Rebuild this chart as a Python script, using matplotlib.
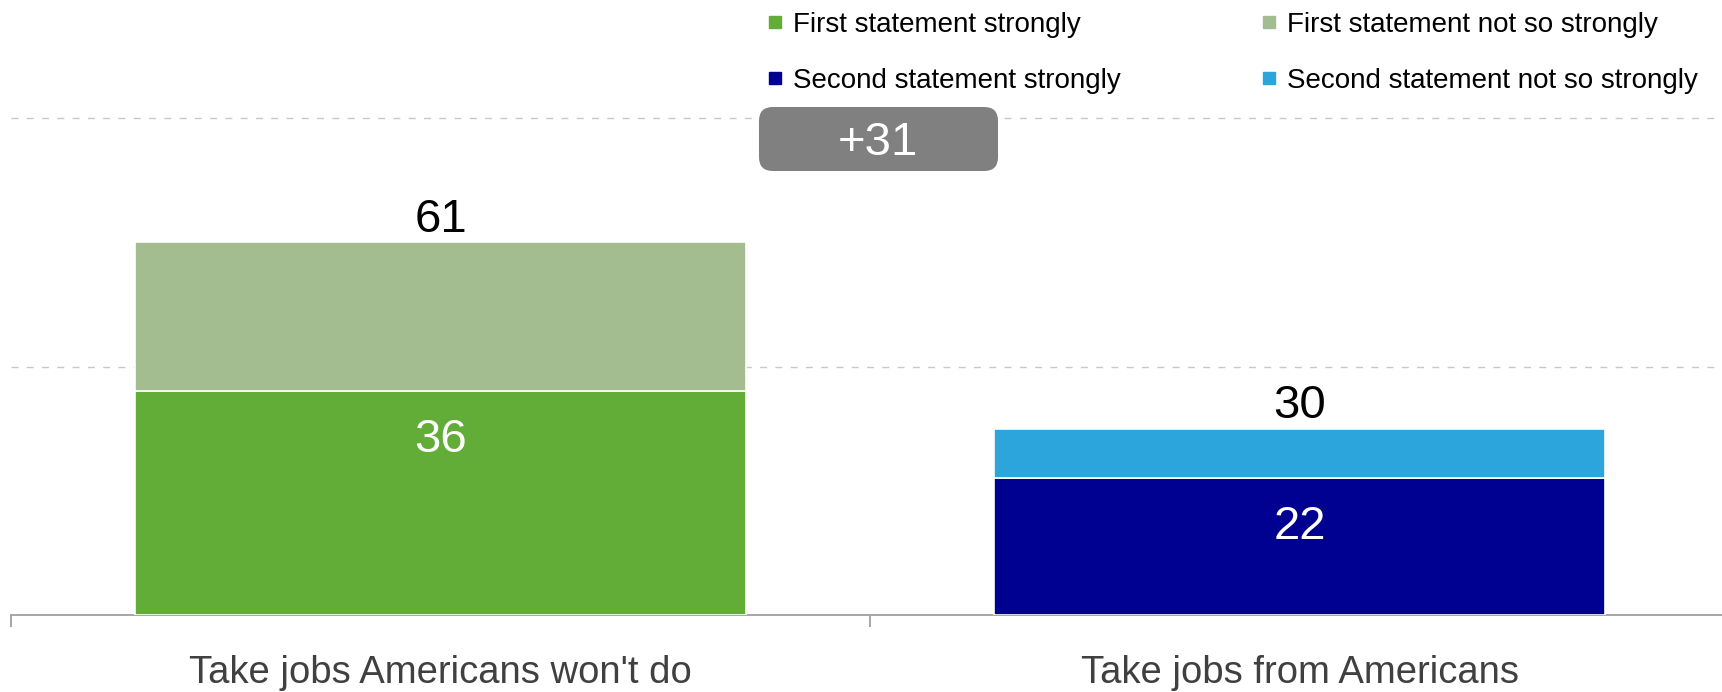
import matplotlib.pyplot as plt
from matplotlib.patches import FancyBboxPatch
from matplotlib.lines import Line2D

plt.rcParams['font.family'] = ['Liberation Sans', 'DejaVu Sans']

categories = ["Take jobs Americans won't do", "Take jobs from Americans"]
strongly = [36, 22]
not_so_strongly = [24, 8]
totals = [61, 30]
colors_strong = ['#62AD37', '#000091']
colors_weak = ['#A3BD90', '#2CA5DC']
legend_labels = ['First statement strongly', 'Second statement strongly',
                 'First statement not so strongly', 'Second statement not so strongly']
legend_colors = ['#62AD37', '#000091', '#A3BD90', '#2CA5DC']

W, H = 1722, 692
fig = plt.figure(figsize=(W / 100, H / 100), dpi=100)
ax = fig.add_axes([11 / W, 1 - 615 / H, 1718 / W, 615 / H])

x = [0, 1]
bw = 0.712
ax.bar(x, strongly, width=bw, color=colors_strong, edgecolor='white', linewidth=1.2, zorder=3)
ax.bar(x, not_so_strongly, width=bw, bottom=strongly, color=colors_weak,
       edgecolor='white', linewidth=1.2, zorder=3)

# totals on top, "strongly" share inside
for xi, s, t in zip(x, strongly, totals):
    ax.annotate(str(t), (xi, strongly[xi] + not_so_strongly[xi]), xytext=(0, 16),
                textcoords='offset points', ha='center', va='center', fontsize=34, color='black')
    ax.annotate(str(s), (xi, s), xytext=(0, -35), textcoords='offset points',
                ha='center', va='center', fontsize=34, color='white', zorder=4)

ax.set_xlim(-0.5, 1.5)
ax.set_ylim(0, 99)
ax.set_yticks([40, 80])
ax.yaxis.grid(True, color='#C8C8C8', linestyle=(0, (5, 6)), linewidth=1.0, zorder=0)
ax.tick_params(axis='y', left=False, labelleft=False)
for s in ['left', 'right', 'top']:
    ax.spines[s].set_visible(False)
ax.spines['bottom'].set_color('#A6A6A6')
ax.spines['bottom'].set_linewidth(1.4)

ax.set_xticks(x)
ax.set_xticklabels(categories, fontsize=27.5, color='#404040')
ax.tick_params(axis='x', which='major', length=0, pad=29)
ax.set_xticks([-0.5, 0.5, 1.5], minor=True)
ax.tick_params(axis='x', which='minor', length=8.5, width=1.4, color='#A6A6A6')

# difference box
diff = totals[0] - totals[1]
box = FancyBboxPatch((759 / W, 1 - 171 / H), 239 / W, 64 / H,
                     boxstyle='round,pad=0,rounding_size=0.008',
                     transform=fig.transFigure, facecolor='#808080', edgecolor='none',
                     mutation_aspect=W / H)
fig.patches.append(box)
fig.text(878 / W, 1 - 143 / H, f'+{diff}', ha='center', va='center', fontsize=34, color='white')

handles = [Line2D([], [], marker='s', linestyle='none', markersize=9, color=c) for c in legend_colors]
fig.legend(handles, legend_labels, ncol=2, loc='upper left', bbox_to_anchor=(767 / W, 1 - 12 / H),
           frameon=False, fontsize=20, handlelength=0.6, handletextpad=0.33,
           columnspacing=5.05, labelspacing=1.08, borderpad=0, borderaxespad=0)

fig.savefig('out.png', dpi=100)
